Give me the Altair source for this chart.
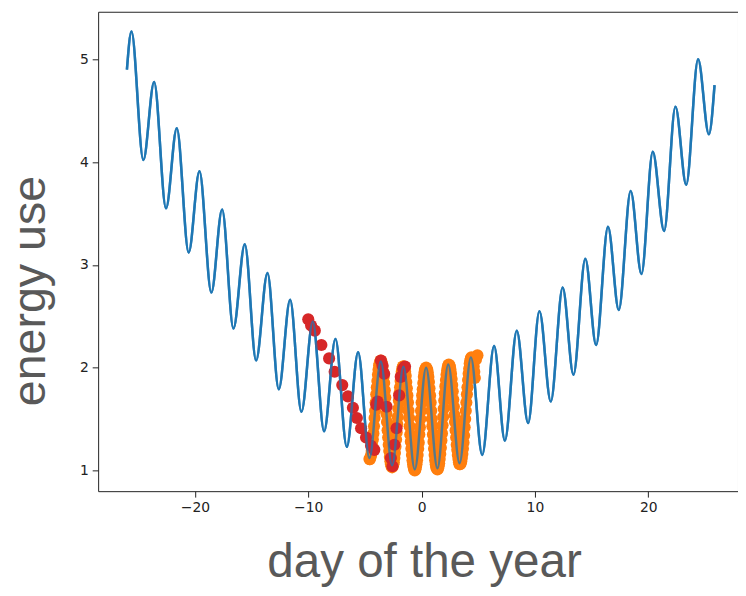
import altair as alt
import pandas as pd

# Blue curve: peaks / troughs (plus end points)
LINE_X = [-26.0, -25.6, -24.55, -23.6, -22.55, -21.6, -20.55, -19.6, -18.55, -17.6, -16.6,
          -15.6, -14.6, -13.6, -12.6, -11.6, -10.6, -9.6, -8.6, -7.6, -6.6, -5.6, -4.6,
          -3.6, -2.6, -1.6, -0.6, 0.4, 1.4, 2.35, 3.35, 4.35, 5.35, 6.4, 7.35, 8.4, 9.4,
          10.4, 11.4, 12.45, 13.4, 14.45, 15.4, 16.45, 17.4, 18.45, 19.4, 20.4, 21.4,
          22.4, 23.35, 24.4, 25.35, 25.85]
LINE_Y = [4.90, 5.27, 4.02, 4.78, 3.55, 4.33, 3.12, 3.91, 2.73, 3.54, 2.38,
          3.20, 2.07, 2.92, 1.79, 2.66, 1.57, 2.45, 1.38, 2.28, 1.23, 2.15, 1.12,
          2.06, 1.05, 2.01, 1.01, 2.00, 1.02, 2.03, 1.07, 2.10, 1.15, 2.21, 1.29, 2.36, 1.46,
          2.55, 1.67, 2.78, 1.93, 3.06, 2.22, 3.37, 2.56, 3.72, 2.91, 4.10, 3.33,
          4.54, 3.78, 5.00, 4.27, 4.75]

# Orange points (dense samples around the minimum)
ORANGE_X = [-4.6, -4.55, -4.5, -4.45, -4.4, -4.35, -4.3, -4.25, -4.2, -4.15, -4.1, -4.05,
            -4.0, -3.95, -3.9, -3.85, -3.8, -3.75, -3.7, -3.65, -3.6, -3.55, -3.5, -3.45,
            -3.4, -3.35, -3.3, -3.25, -3.2, -3.15, -3.1, -3.05, -3.0, -2.95, -2.9, -2.85,
            -2.8, -2.75, -2.7, -2.65, -2.6, -2.55, -2.5, -2.45, -2.4, -2.35, -2.3, -2.25,
            -2.2, -2.15, -2.1, -2.05, -2.0, -1.95, -1.9, -1.85, -1.8, -1.75, -1.7, -1.65,
            -1.6, -1.55, -1.5, -1.45, -1.4, -1.35, -1.3, -1.25, -1.2, -1.15, -1.1, -1.05,
            -1.0, -0.95, -0.9, -0.85, -0.8, -0.75, -0.7, -0.65, -0.6, -0.55, -0.5, -0.45,
            -0.4, -0.35, -0.3, -0.25, -0.2, -0.15, -0.1, -0.05, 0.0, 0.05, 0.1, 0.15,
            0.2, 0.25, 0.3, 0.35, 0.4, 0.45, 0.5, 0.55, 0.6, 0.65, 0.7, 0.75,
            0.8, 0.85, 0.9, 0.95, 1.0, 1.05, 1.1, 1.15, 1.2, 1.25, 1.3, 1.35,
            1.4, 1.45, 1.5, 1.55, 1.6, 1.65, 1.7, 1.75, 1.8, 1.85, 1.9, 1.95,
            2.0, 2.05, 2.1, 2.15, 2.2, 2.25, 2.3, 2.35, 2.4, 2.45, 2.5, 2.55,
            2.6, 2.65, 2.7, 2.75, 2.8, 2.85, 2.9, 2.95, 3.0, 3.05, 3.1, 3.15,
            3.2, 3.25, 3.3, 3.35, 3.4, 3.45, 3.5, 3.55, 3.6, 3.65, 3.7, 3.75,
            3.8, 3.85, 3.9, 3.95, 4.0, 4.05, 4.1, 4.15, 4.2, 4.25, 4.3, 4.35,
            4.4, 4.45, 4.5, 4.55, 4.6, 4.65, 4.7, 4.8, 4.93]
ORANGE_Y = [1.11, 1.11, 1.13, 1.15, 1.19, 1.24, 1.30, 1.36, 1.43, 1.51, 1.58, 1.66,
            1.74, 1.81, 1.87, 1.93, 1.98, 2.02, 2.04, 2.06, 2.07, 2.06, 2.04, 2.01,
            1.96, 1.91, 1.85, 1.78, 1.71, 1.63, 1.55, 1.47, 1.39, 1.32, 1.25, 1.19,
            1.13, 1.09, 1.06, 1.04, 1.03, 1.04, 1.06, 1.08, 1.12, 1.17, 1.23, 1.30,
            1.37, 1.45, 1.52, 1.60, 1.68, 1.75, 1.81, 1.87, 1.92, 1.96, 1.99, 2.01,
            2.01, 2.01, 1.99, 1.96, 1.92, 1.86, 1.80, 1.73, 1.66, 1.58, 1.51, 1.43,
            1.35, 1.28, 1.21, 1.15, 1.10, 1.06, 1.03, 1.01, 1.00, 1.01, 1.03, 1.06,
            1.10, 1.15, 1.21, 1.27, 1.35, 1.42, 1.50, 1.58, 1.66, 1.73, 1.79, 1.85,
            1.91, 1.95, 1.98, 1.99, 2.00, 1.99, 1.98, 1.95, 1.91, 1.86, 1.80, 1.73,
            1.66, 1.58, 1.50, 1.43, 1.35, 1.28, 1.21, 1.15, 1.10, 1.06, 1.03, 1.02,
            1.01, 1.02, 1.04, 1.07, 1.11, 1.16, 1.22, 1.29, 1.36, 1.44, 1.52, 1.60,
            1.68, 1.75, 1.82, 1.88, 1.93, 1.97, 2.00, 2.02, 2.03, 2.02, 2.01, 1.98,
            1.94, 1.89, 1.83, 1.77, 1.69, 1.62, 1.54, 1.47, 1.39, 1.32, 1.25, 1.20,
            1.15, 1.11, 1.08, 1.06, 1.06, 1.07, 1.09, 1.12, 1.16, 1.21, 1.27, 1.34,
            1.42, 1.50, 1.58, 1.66, 1.74, 1.81, 1.88, 1.94, 1.99, 2.04, 2.07, 2.09,
            2.10, 2.09, 2.08, 2.05, 2.01, 1.96, 1.90, 2.08, 2.12]

# Red points
RED_X = [-10.0, -9.75, -9.42, -8.84, -8.16, -7.67, -7.0, -6.5, -6.06, -5.71, -5.34, -4.9,
         -4.46, -4.17, -4.0, -3.88, -3.59, -3.45, -3.3, -3.09, -2.71, -2.57, -2.4, -2.21,
         -1.98, -1.84, -1.63, -1.46]
RED_Y = [2.47, 2.41, 2.36, 2.22, 2.09, 1.96, 1.83, 1.72, 1.61, 1.51, 1.41, 1.32,
         1.24, 1.20, 1.64, 1.67, 2.07, 2.02, 1.94, 1.62, 1.12, 1.04, 1.25, 1.41,
         1.73, 1.91, 1.99, 2.01]

X_TICKS = [-20, -10, 0, 10, 20]
Y_TICKS = [1, 2, 3, 4, 5]

line_df = pd.DataFrame({"x": LINE_X, "y": LINE_Y})
orange_df = pd.DataFrame({"x": ORANGE_X, "y": ORANGE_Y})
red_df = pd.DataFrame({"x": RED_X, "y": RED_Y})

xscale = alt.Scale(domain=[-28.54, 27.92], nice=False, zero=False)
yscale = alt.Scale(domain=[0.798, 5.463], nice=False, zero=False)

common_axis = dict(
    labelFont="DejaVu Sans", labelFontSize=14, labelColor="#222222",
    tickColor="#222222", tickSize=6, tickWidth=1, domain=False, grid=False,
    titleFont="Liberation Sans", titleFontWeight="normal", titleColor="#595959",
    titleBaseline="alphabetic", titleAlign="center", format="d",
)

xaxis = alt.Axis(values=X_TICKS, title="day of the year", titleFontSize=48,
                 titleX=329, titleY=86, labelPadding=4, **common_axis)
yaxis = alt.Axis(values=Y_TICKS, title="energy use", titleFontSize=47,
                 titleAngle=270, titleX=-54, titleY=281.5, labelPadding=4, **common_axis)

X = lambda: alt.X("x:Q", scale=xscale)
Y = lambda: alt.Y("y:Q", scale=yscale)

base_line = alt.Chart(line_df).mark_line(color="#1f77b4", strokeWidth=2.5,
                                         interpolate="monotone").encode(
    x=alt.X("x:Q", scale=xscale, axis=xaxis),
    y=alt.Y("y:Q", scale=yscale, axis=yaxis),
)
orange = alt.Chart(orange_df).mark_circle(size=150, opacity=1, color="#ff7f0e").encode(x=X(), y=Y())
red = alt.Chart(red_df).mark_circle(size=150, opacity=1, color="#d62728").encode(x=X(), y=Y())
top_line = alt.Chart(line_df).mark_line(color="#1f77b4", strokeWidth=2.5, opacity=0.75,
                                        interpolate="monotone").encode(x=X(), y=Y())

chart = alt.layer(base_line, orange, red, top_line).properties(
    width=646, height=484,
    autosize=alt.AutoSizeParams(type="none"),
    padding={"left": 91, "top": 1, "right": 0, "bottom": 99},
).configure(background="white").configure_view(stroke="#222222", strokeWidth=1)

chart.save("out.html", embed_options={"renderer": "svg", "actions": False})
